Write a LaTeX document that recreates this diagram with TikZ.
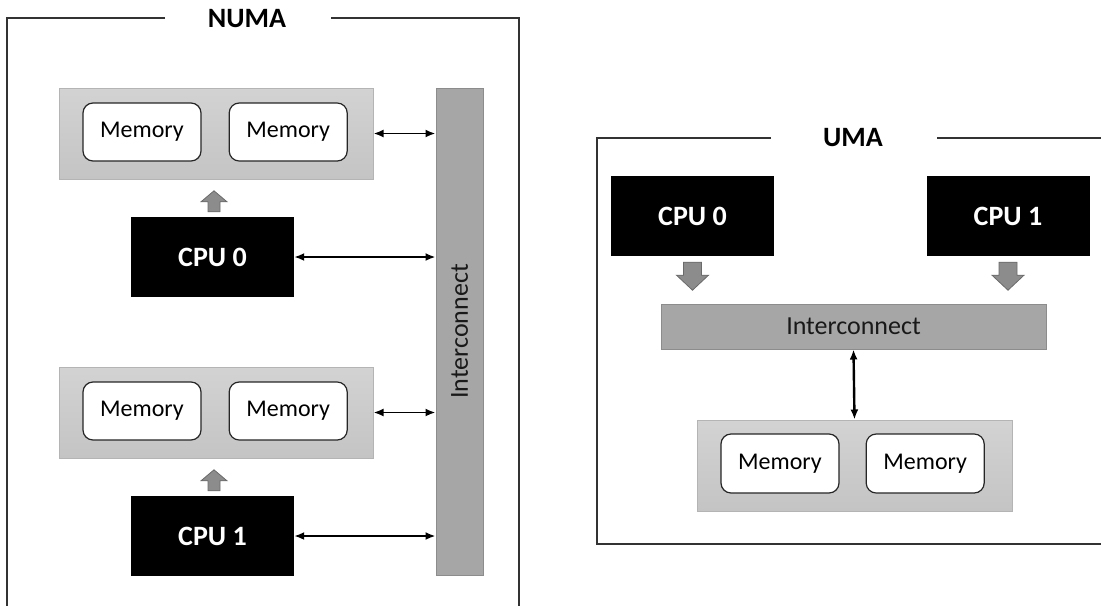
\documentclass[tikz,border=0pt]{standalone}
\usepackage{fontspec}
\setmainfont{Carlito}
\usepackage{xcolor}
\usepackage{tikz}
\usetikzlibrary{arrows.meta,positioning,calc}

\definecolor{memgray}{HTML}{C4C4C4}
\definecolor{memline}{HTML}{B4B4B4}
\definecolor{busgray}{HTML}{A6A6A6}
\definecolor{busline}{HTML}{8C8C8C}
\definecolor{framegray}{HTML}{333333}
\definecolor{arrgray}{HTML}{8C8C8C}
\definecolor{arrline}{HTML}{6A6A6A}

\tikzset{
  frame/.style={draw=framegray,line width=1.6pt},
  title/.style={font=\bfseries\fontsize{28}{30}\selectfont,fill=white,inner sep=0pt},
  memgroup/.style={draw=memline,line width=1pt,top color=memgray!75!white,bottom color=memgray,minimum width=314pt,minimum height=91pt},
  membox/.style={draw=black!85,line width=1.2pt,fill=white,rounded corners=10pt,minimum width=118pt,minimum height=58pt,font=\fontsize{24}{26}\selectfont},
  cpubox/.style={fill=black,text=white,minimum width=163pt,minimum height=80pt,font=\bfseries\fontsize{28}{30}\selectfont},
  bus/.style={draw=busline,line width=1pt,fill=busgray,font=\fontsize{26}{28}\selectfont,text=black!90},
  link/.style={{Latex[length=10pt,width=8pt]}-{Latex[length=10pt,width=8pt]},line width=1.9pt},
  fatarrow/.style={fill=arrgray,draw=arrline,line width=0.8pt}
}

% block arrows, #1 = start of the shaft
\newcommand{\uparr}[1]{\filldraw[fatarrow] ($(#1)+(-6,0)$) -- ++(0,-10) -- ++(-7,0) -- ++(13,-11) -- ++(13,11) -- ++(-7,0) -- ++(0,10) -- cycle;}
\newcommand{\downarr}[1]{\filldraw[fatarrow] ($(#1)+(-9,0)$) -- ++(0,13) -- ++(-7,0) -- ++(16,15) -- ++(16,-15) -- ++(-7,0) -- ++(0,-13) -- cycle;}

\begin{document}
\begin{tikzpicture}[x=1pt,y=-1pt]
\useasboundingbox (0,0) rectangle (1101,606);

% NUMA
\node[title] (numa) at (247,19) {NUMA};
\draw[frame] (165,18) -- (7,18) -- (7,606);
\draw[frame] (331,18) -- (519,18) -- (519,606);

\node[bus,minimum width=47pt,minimum height=487pt] (bus) at (459.5,331.5) {};
\node[rotate=90,font=\fontsize{26}{28}\selectfont,text=black!90] (buslabel) at (bus.center) {Interconnect};

\node[memgroup] (grp0) at (216,133.5) {};
\node[membox] (mem0a) at (142,132) {Memory};
\node[membox,right=27pt of mem0a] (mem0b) {Memory};
\node[cpubox] (cpu0) at (212.5,257) {CPU 0};

\node[memgroup] (grp1) at (216,412.5) {};
\node[membox] (mem1a) at (142,411) {Memory};
\node[membox,right=27pt of mem1a] (mem1b) {Memory};
\node[cpubox] (cpu1) at (212.5,536) {CPU 1};

\coordinate (up0) at ($(cpu0.north)+(1.5,-5)$);
\coordinate (up1) at ($(cpu1.north)+(1.5,-5)$);
\uparr{up0}
\uparr{up1}

\draw[link] (grp0.east) -- (grp0.east -| bus.west);
\draw[link] (cpu0.east) -- (cpu0.east -| bus.west);
\draw[link] (grp1.east) -- (grp1.east -| bus.west);
\draw[link] (cpu1.east) -- (cpu1.east -| bus.west);

% UMA
\node[title] (uma) at (853,138) {UMA};
\draw[frame] (771,138) -- (597,138) -- (597,544) -- (1101,544);
\draw[frame] (937,138) -- (1101,138);

\node[cpubox] (cpua) at (692.5,216) {CPU 0};
\node[cpubox] (cpub) at (1008,216) {CPU 1};
\node[bus,minimum width=385pt,minimum height=45pt] (ubus) at (853.5,326.5) {Interconnect};
\node[memgroup,minimum width=315pt] (ugrp) at (854.5,465.5) {};
\node[membox,minimum height=59pt] (mema) at (780,463.5) {Memory};
\node[membox,minimum height=59pt,right=26pt of mema] (memb) {Memory};

\coordinate (dna) at ($(cpua.south)+(0,6)$);
\coordinate (dnb) at ($(cpub.south)+(0,6)$);
\downarr{dna}
\downarr{dnb}

\draw[link,line width=2.4pt] (ubus.south) -- (ugrp.north);
\end{tikzpicture}
\end{document}
